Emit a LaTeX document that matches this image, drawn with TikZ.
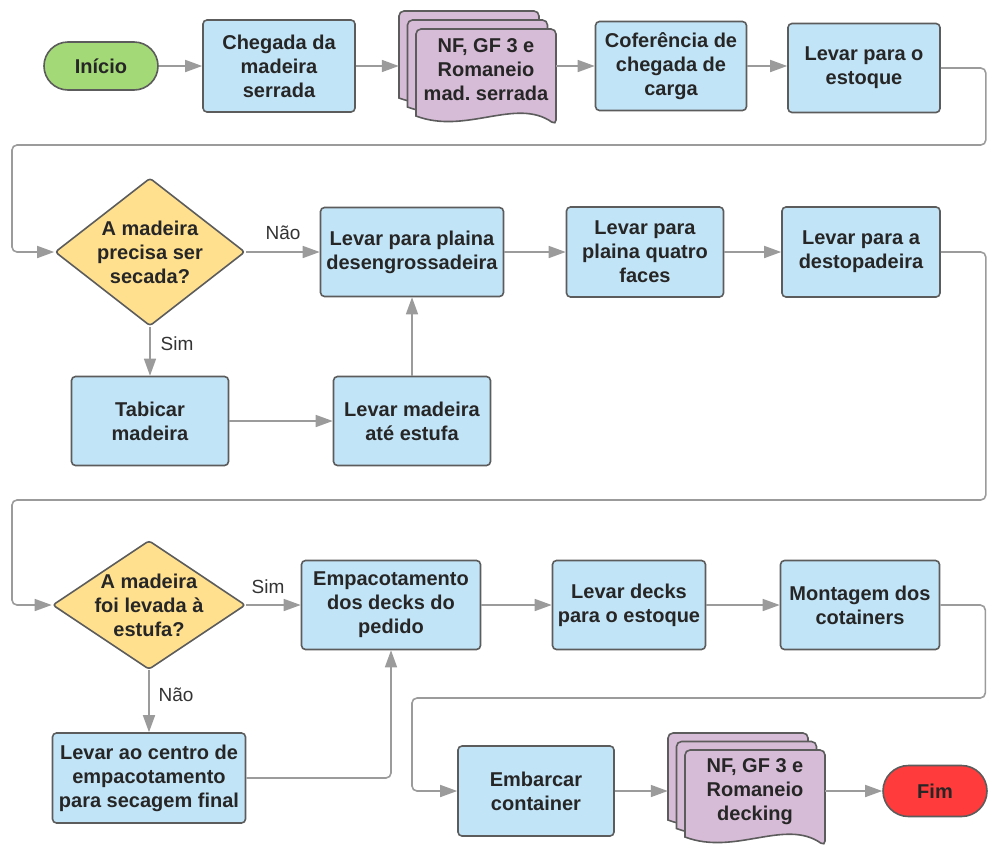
\documentclass[tikz,border=0pt]{standalone}
\usepackage{fontspec}
\setmainfont{Liberation Sans}
\usetikzlibrary{arrows.meta,shapes.geometric,shapes.misc,calc}
\frenchspacing

\definecolor{procfill}{HTML}{C2E4F7}
\definecolor{edgegray}{HTML}{5C5C5C}
\definecolor{decfill}{HTML}{FFE08F}
\definecolor{docfill}{HTML}{D6BCD6}
\definecolor{startfill}{HTML}{A3D976}
\definecolor{endfill}{HTML}{FF3B3B}
\definecolor{linkgray}{HTML}{9B9B9B}
\definecolor{inkdark}{HTML}{262626}
\definecolor{labelink}{HTML}{333333}

\tikzset{
  base/.style={draw=edgegray, line width=1.6pt, text=inkdark,
    font=\bfseries\fontsize{20}{24}\selectfont, align=center, inner sep=0pt},
  proc/.style={base, rectangle, rounded corners=4pt, fill=procfill},
  term/.style={base, rounded rectangle, minimum height=48pt},
  decision/.style={base, diamond, rounded corners=3pt, fill=decfill},
  doctext/.style={text=inkdark, font=\bfseries\fontsize{20}{24}\selectfont, align=center, inner sep=0pt},
  docline/.style={draw=edgegray, line width=1.6pt, fill=docfill},
  stackbox/.style={draw=none, rectangle, inner sep=0pt, minimum width=157pt, minimum height=90pt},
  lbl/.style={text=labelink, font=\fontsize{19}{22}\selectfont, inner sep=0pt},
  conn/.style={draw=linkgray, line width=1.6pt, rounded corners=5pt,
    -{Triangle[length=17pt,width=12pt]}},
}

% one page of a document stack, top-left corner at (#1,#2)
\newcommand\docpage[2]{%
  \begin{scope}[shift={(#1,#2)}]
    \draw[docline] (0,87) [rounded corners=5pt] -- (0,0) -- (140,0) -- (140,96) [sharp corners]
      .. controls (100,68) and (50,106) .. (0,87) -- cycle;
  \end{scope}}

\begin{document}
\begin{tikzpicture}[x=1pt,y=-1pt]
\useasboundingbox (0,0) rectangle (988,844);

% ---------- row 1 ----------
\node[term, fill=startfill, minimum width=114pt] (inicio) at (101,66) {Início};
\node[proc, minimum width=152pt, minimum height=92pt] (chegada) at (279,66) {Chegada da\\madeira\\serrada};
\docpage{399}{11}
\docpage{407.5}{20}
\docpage{416}{29}
\node[stackbox] (d1) at (477.5,66) {};
\node[doctext] (d1t) at (486,70) {NF, GF 3 e\\Romaneio\\mad. serrada};
\node[proc, minimum width=151pt, minimum height=89pt] (cof) at (671,66) {Coferência de\\chegada de\\carga};
\node[proc, minimum width=152pt, minimum height=89pt] (estoque) at (864,68) {Levar para o\\estoque};

% ---------- row 2 ----------
\node[decision, minimum width=190pt, minimum height=148pt] (q1) at (150,252) {};
\node[doctext] (q1t) at (q1) {A madeira\\precisa ser\\secada?};
\node[proc, minimum width=183pt, minimum height=89pt] (des) at (412,252) {Levar para plaina\\desengrossadeira};
\node[proc, minimum width=157pt, minimum height=90pt] (qf) at (645,252) {Levar para\\plaina quatro\\faces};
\node[proc, minimum width=158pt, minimum height=90pt] (dst) at (861,252) {Levar para a\\destopadeira};
\node[proc, minimum width=157pt, minimum height=89pt] (tab) at (150,421) {Tabicar\\madeira};
\node[proc, minimum width=157pt, minimum height=89pt] (est) at (412,421) {Levar madeira\\até estufa};

% ---------- row 3 ----------
\node[decision, minimum width=193pt, minimum height=129pt] (q2) at (149,605) {};
\node[doctext] (q2t) at (q2) {A madeira\\foi levada à\\estufa?};
\node[proc, minimum width=179pt, minimum height=89pt] (emp) at (391,605) {Empacotamento\\dos decks do\\pedido};
\node[proc, minimum width=153pt, minimum height=89pt] (decks) at (629,605) {Levar decks\\para o estoque};
\node[proc, minimum width=159pt, minimum height=89pt] (mont) at (860,605) {Montagem dos\\cotainers};
\node[proc, minimum width=193pt, minimum height=90pt] (centro) at (149,778) {Levar ao centro de\\empacotamento\\para secagem final};

% ---------- row 4 ----------
\node[proc, minimum width=156pt, minimum height=90pt] (emb) at (536,791) {Embarcar\\container};
\docpage{668}{733}
\docpage{676.5}{741.5}
\docpage{685}{750}
\node[stackbox] (d2) at (746.5,791) {};
\node[doctext] (d2t) at (755,792) {NF, GF 3 e\\Romaneio\\decking};
\node[term, fill=endfill, minimum width=104pt, minimum height=51pt] (fim) at (935,791) {Fim};

% ---------- connectors ----------
\draw[conn] (inicio.east) -- (chegada.west);
\draw[conn] (chegada.east) -- (d1.west);
\draw[conn] (d1.east) -- (cof.west);
\draw[conn] (cof.east) -- (estoque.west |- cof.east);
\draw[conn] (estoque.east) -- ++(45,0) |- (12,145) |- (q1.west);

\draw[conn] (q1.east) -- (des.west);
\node[lbl] (nao1) at (283,233) {Não};
\draw[conn] (q1.south) -- (tab.north);
\node[lbl] (sim1) at (177,344) {Sim};
\draw[conn] (tab.east) -- (est.west);
\draw[conn] (est.north) -- (des.south);
\draw[conn] (des.east) -- (qf.west);
\draw[conn] (qf.east) -- (dst.west);
\draw[conn] (dst.east) -- ++(45,0) |- (12,500) |- (q2.west);

\draw[conn] (q2.east) -- (emp.west);
\node[lbl] (sim2) at (268,587) {Sim};
\draw[conn] (q2.south) -- (centro.north);
\node[lbl] (nao2) at (176,695) {Não};
\draw[conn] (centro.east) -| (emp.south);
\draw[conn] (emp.east) -- (decks.west);
\draw[conn] (decks.east) -- (mont.west);
\draw[conn] (mont.east) -- ++(45,0) |- (412,698) |- (emb.west);

\draw[conn] (emb.east) -- (d2.west);
\draw[conn] (d2.east) -- (fim.west);
\end{tikzpicture}
\end{document}
